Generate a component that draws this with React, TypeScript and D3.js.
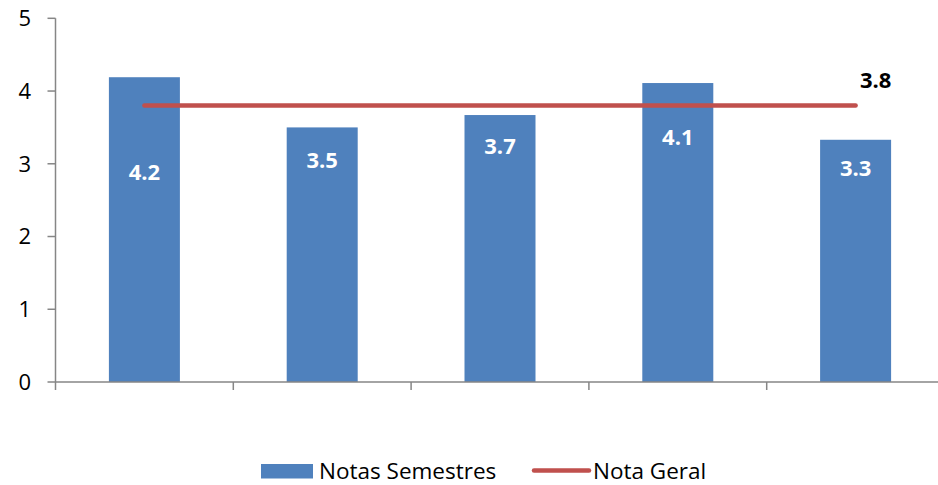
import React from "react";
import * as d3 from "d3";

const categories = ["S1", "S2", "S3", "S4", "S5"];
const semesterScores = [4.19, 3.5, 3.67, 4.11, 3.33];
const semesterLabels = ["4.2", "3.5", "3.7", "4.1", "3.3"];
const labelLevels = [2.89, 3.05, 3.24, 3.37, 2.94];
const overallScore = 3.8;
const overallLabel = "3.8";
const yTicks = [0, 1, 2, 3, 4, 5];
const legendNames = ["Notas Semestres", "Nota Geral"];

const W = 938;
const H = 485;
const FONT = "'Open Sans', sans-serif";
const BLUE = "#4F81BD";
const RED = "#C0504D";
const AXIS = "#868686";

export default function App() {
  const x0 = 55.5;
  const bandW = 177.8;
  const x = d3
    .scaleBand<string>()
    .domain(categories)
    .range([x0, x0 + bandW * categories.length])
    .paddingInner(0)
    .paddingOuter(0);
  const y = d3.scaleLinear().domain([0, 5]).range([382, 18.3]);
  const barW = 71;
  const cx = (c: string) => (x(c) as number) + x.bandwidth() / 2;

  const lineGen = d3
    .line<string>()
    .x((c) => cx(c))
    .y(() => y(overallScore));

  return (
    <svg
      width={W}
      height={H}
      style={{ position: "absolute", left: 0, top: 0, background: "#fff" }}
      fontFamily={FONT}
    >
      {categories.map((c, i) => (
        <rect
          key={c}
          x={cx(c) - barW / 2}
          y={y(semesterScores[i])}
          width={barW}
          height={y(0) - y(semesterScores[i])}
          fill={BLUE}
        />
      ))}
      {categories.map((c, i) => (
        <text
          key={"l" + c}
          x={cx(c)}
          y={y(labelLevels[i])}
          dy="0.36em"
          textAnchor="middle"
          fill="#fff"
          fontWeight="bold"
          fontSize={22}
        >
          {semesterLabels[i]}
        </text>
      ))}
      <line x1={x0} x2={x0} y1={y(5)} y2={y(0)} stroke={AXIS} strokeWidth={1.5} />
      {yTicks.map((t) => (
        <g key={t}>
          <line x1={x0 - 8} x2={x0} y1={y(t)} y2={y(t)} stroke={AXIS} strokeWidth={1.5} />
          <text x={31} y={y(t)} dy="0.36em" textAnchor="end" fontSize={22} fill="#000">
            {t}
          </text>
        </g>
      ))}
      <line x1={x0} x2={W} y1={y(0)} y2={y(0)} stroke={AXIS} strokeWidth={1.5} />
      {categories.map((c) => (
        <line
          key={"t" + c}
          x1={x(c) as number}
          x2={x(c) as number}
          y1={y(0)}
          y2={y(0) + 8}
          stroke={AXIS}
          strokeWidth={1.5}
        />
      ))}
      <path
        d={lineGen(categories) || ""}
        fill="none"
        stroke={RED}
        strokeWidth={4.5}
        strokeLinecap="round"
      />
      <text
        x={cx(categories[categories.length - 1]) + 20}
        y={y(overallScore) - 26}
        dy="0.36em"
        textAnchor="middle"
        fontWeight="bold"
        fontSize={22}
        fill="#000"
      >
        {overallLabel}
      </text>
      <rect x={261} y={464} width={52} height={14.5} fill={BLUE} />
      <text x={319} y={478.5} fontSize={22.5} fill="#000">
        {legendNames[0]}
      </text>
      <line x1={534} x2={589} y1={470.5} y2={470.5} stroke={RED} strokeWidth={4.5} strokeLinecap="round" />
      <text x={593} y={478.5} fontSize={22.5} fill="#000">
        {legendNames[1]}
      </text>
    </svg>
  );
}
